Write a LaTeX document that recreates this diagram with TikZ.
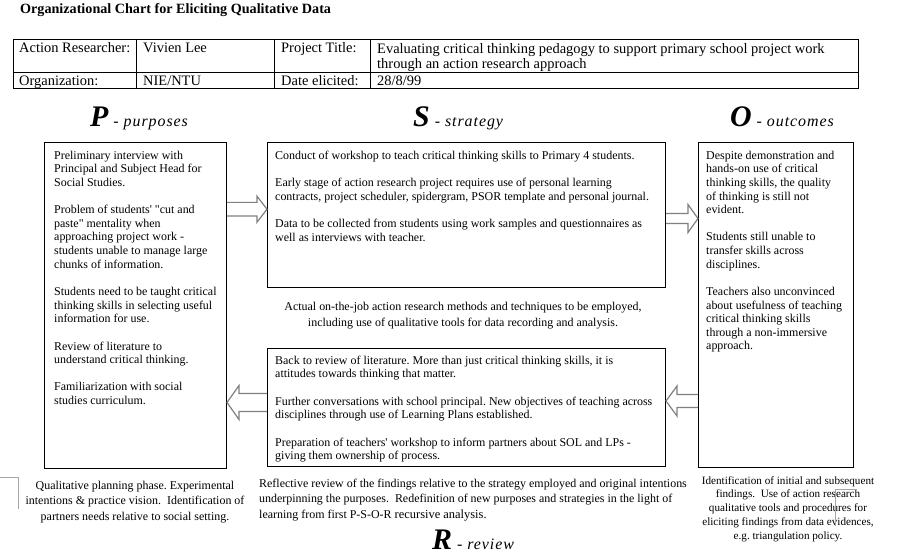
\documentclass[tikz,border=0pt]{standalone}
\usepackage{fontspec}
\setmainfont{Liberation Serif}
\usetikzlibrary{calc}
\frenchspacing
% strut that fixes the height of the first line of a text block
\newcommand\fl{\rule{0pt}{10bp}}
\newcommand\apos{\textquotesingle}
\newcommand\dq{\textquotedbl}
% heading: large bold italic letter followed by a small italic word
\newcommand\headword[2]{{\fontsize{30}{32}\selectfont\bfseries\itshape #1}%
  {\fontsize{16}{18}\selectfont\itshape\addfontfeatures{LetterSpace=6}\ - #2}}
% hollow block arrow: #1 tail anchor, #2 tip anchor, #3 y-offset of the tip from #2,
% #4 shaft half-height, #5 head half-height, #6 signed head length
\newcommand\blockarrow[6]{%
  \coordinate (tip) at ($(#2)+(0,#3)$);
  \coordinate (tail) at (#1 |- tip);
  \coordinate (hb) at ($(tip)+(#6,0)$);
  \draw[blk] ($(tail)+(0,-#4)$) -- ($(hb)+(0,-#4)$) -- ($(hb)+(0,-#5)$) -- (tip)
    -- ($(hb)+(0,#5)$) -- ($(hb)+(0,#4)$) -- ($(tail)+(0,#4)$);}
\begin{document}
\begin{tikzpicture}[x=1bp,y=-1bp,
  frame/.style={draw=black, line width=1bp, inner sep=0, anchor=north west},
  boxtext/.style={inner sep=0, anchor=north west, align=left, font=\fontsize{12}{13.67}\selectfont},
  captext/.style={inner sep=0, anchor=north, align=center},
  celltext/.style={inner sep=0, anchor=base west, font=\fontsize{14.5}{15.5}\selectfont},
  head/.style={inner sep=0, anchor=base west},
  blk/.style={draw=black!50, line width=1.2bp, line join=miter},
  cornermark/.style={draw=black!35, line width=0.8bp}]
\useasboundingbox[fill=white] (0,0) rectangle (900,556);

% title
\node[head, font=\fontsize{14.2}{16}\selectfont\bfseries] (title) at (20,14)
  {Organizational Chart for Eliciting Qualitative Data};

% header table
\draw[line width=1bp] (13,40) rectangle (858,89);
\draw[line width=1bp] (13,73) -- (858,73);
\foreach \cx in {136,274,370} \draw[line width=1bp] (\cx,40) -- (\cx,89);
\node[celltext] (c11) at (19,53) {Action Researcher:};
\node[celltext] (c12) at (143,53) {Vivien Lee};
\node[celltext] (c13) at (281,53) {Project Title:};
\node[celltext, anchor=north west, align=left] (c14) at (377,43)
  {\fl Evaluating critical thinking pedagogy to support primary school project work\\
   through an action research approach};
\node[celltext] (c21) at (19,85.5) {Organization:};
\node[celltext] (c22) at (143,85.5) {NIE/NTU};
\node[celltext] (c23) at (281,85.5) {Date elicited:};
\node[celltext] (c24) at (377,85.5) {28/8/99};

% column headings
\node[head] (hP) at (90,127) {\headword{P}{purposes}};
\node[head] (hS) at (413,127) {\headword{S}{strategy}};
\node[head] (hO) at (730,127) {\headword{O}{outcomes}};
\node[head] (hR) at (432,549) {\headword{R}{review}};

% the four boxes
\node[frame, minimum width=182bp, minimum height=326bp] (P) at (44,142) {};
\node[frame, minimum width=398bp, minimum height=145bp] (S) at (267,142) {};
\node[frame, minimum width=155bp, minimum height=325bp] (O) at (698,142) {};
\node[frame, minimum width=398bp, minimum height=118bp] (R) at (267,348) {};

% box contents
\node[boxtext] (Pt) at (54,149) {\fl Preliminary interview with\\
Principal and Subject Head for\\
Social Studies.\\[13.67bp]
Problem of students\apos{} \dq cut and\\
paste\dq{} mentality when\\
approaching project work -\\
students unable to manage large\\
chunks of information.\\[13.67bp]
Students need to be taught critical\\
thinking skills in selecting useful\\
information for use.\\[13.67bp]
Review of literature to\\
understand critical thinking.\\[13.67bp]
Familiarization with social\\
studies curriculum.};

\node[boxtext] (St) at (275,149) {\fl Conduct of workshop to teach critical thinking skills to Primary 4 students.\\[13.67bp]
Early stage of action research project requires use of personal learning\\
contracts, project scheduler, spidergram, PSOR template and personal journal.\\[13.67bp]
Data to be collected from students using work samples and questionnaires as\\
well as interviews with teacher.};

\node[boxtext] (Ot) at (706,149) {\fl Despite demonstration and\\
hands-on use of critical\\
thinking skills, the quality\\
of thinking is still not\\
evident.\\[13.67bp]
Students still unable to\\
transfer skills across\\
disciplines.\\[13.67bp]
Teachers also unconvinced\\
about usefulness of teaching\\
critical thinking skills\\
through a non-immersive\\
approach.};

\node[boxtext] (Rt) at (275,354) {\fl Back to review of literature. More than just critical thinking skills, it is\\
attitudes towards thinking that matter.\\[13.67bp]
Further conversations with school principal. New objectives of teaching across\\
disciplines through use of Learning Plans established.\\[13.67bp]
Preparation of teachers\apos{} workshop to inform partners about SOL and LPs -\\
giving them ownership of process.};

% captions
\node[captext, font=\fontsize{12}{16.5}\selectfont] (Sc) at (463,300)
  {\fl Actual on-the-job action research methods and techniques to be employed,\\
   including use of qualitative tools for data recording and analysis.};
\node[captext, font=\fontsize{12}{15.5}\selectfont] (Pc) at (135,479)
  {\fl Qualitative planning phase. Experimental\\
   intentions \& practice vision.\ \ Identification of\\
   partners needs relative to social setting.};
\node[captext, anchor=north west, align=left, font=\fontsize{12}{15.5}\selectfont] (Rc) at (259,477)
  {\fl Reflective review of the findings relative to the strategy employed and original intentions\\
   underpinning the purposes.\ \ Redefinition of new purposes and strategies in the light of\\
   learning from first P-S-O-R {\fontsize{12.5}{15.5}\selectfont recursive analysis.}};
\node[captext, font=\fontsize{11.2}{13.8}\selectfont] (Oc) at (788,474)
  {\fl Identification of initial and subsequent\\
   findings.\ \ Use of action research\\
   qualitative tools and procedures for\\
   eliciting findings from data evidences,\\
   e.g. triangulation policy.};

% block arrows of the P-S-O-R cycle
\blockarrow{P.north east}{S.north west}{67.2}{6.8}{13}{-10}
\blockarrow{S.north east}{O.north west}{76.5}{5}{14}{-10}
\blockarrow{O.north west}{R.north east}{53}{6.5}{15}{11}
\blockarrow{R.north west}{P.north east}{260.5}{9}{17}{12}

% faint corner marks
\draw[cornermark] (0,477) -- (18,477) -- (18,509);
\draw[cornermark] (835,489) -- (857,489);
\draw[cornermark] (835,489) -- (835,526);
\end{tikzpicture}
\end{document}
